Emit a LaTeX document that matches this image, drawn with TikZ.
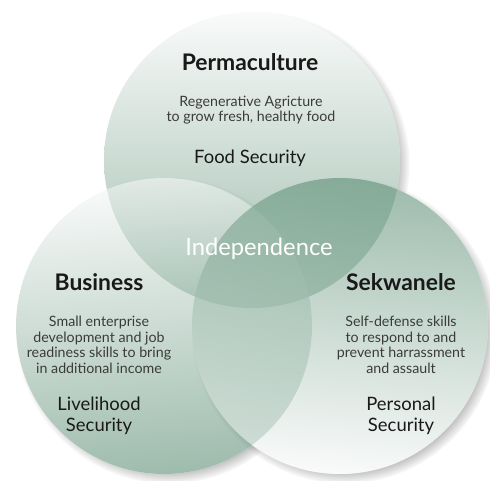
\documentclass[tikz,border=0pt]{standalone}
\usepackage{fontspec}
\setmainfont{Lato}
\usetikzlibrary{shadows}

\definecolor{venlight}{RGB}{246,248,247}
\definecolor{vengreen}{RGB}{88,140,114}
\definecolor{ventext}{RGB}{25,25,25}

\tikzset{
  ring/.style={circle, minimum size=5.92cm, inner sep=0pt, fill=white,
    circular drop shadow={shadow scale=1.035, shadow xshift=2.5pt, shadow yshift=-2.5pt, opacity=0.9}},
  ringshade/.style={fill opacity=0.58},
  heading/.style={font=\bfseries\fontsize{13}{15}\selectfont, text=ventext},
  blurb/.style={font=\fontsize{8.1}{8.8}\selectfont, align=center, text=ventext!85},
  goal/.style={font=\fontsize{10.5}{12}\selectfont, align=center, text=ventext},
}

\begin{document}
\begin{tikzpicture}[x=0.02cm, y=-0.02cm]
    \useasboundingbox (0,0) rectangle (490,480);

    % Circles
    \node[ring] at (252,160) (perma) {};
    \node[ring] at (164,326) (biz) {};
    \node[ring] at (340,326) (sekw) {};

    \shade[ringshade, top color=venlight, bottom color=vengreen]
        (perma.center) circle[radius=2.96cm];
    \shade[ringshade, left color=venlight, right color=vengreen, shading angle=5]
        (biz.center) circle[radius=2.96cm];
    \shade[ringshade, left color=vengreen, right color=venlight, shading angle=-5]
        (sekw.center) circle[radius=2.96cm];

    % Texts
    \node[heading] at (250,62) (permatitle) {Permaculture};
    \node[blurb] at (251,110) (permablurb) {Regenerative Agricture\\to grow fresh, healthy food};
    \node[goal] at (250,158) (permagoal) {Food Security};

    \node[font=\fontsize{13.5}{15}\selectfont, text=white] at (259,249) (indep) {Independence};

    \node[heading] at (99,282) (biztitle) {Business};
    \node[blurb] at (99,345) (bizblurb) {Small enterprise\\development and job\\readiness skills to bring\\in additional income};
    \node[goal] at (99,416) (bizgoal) {Livelihood\\Security};

    \node[heading] at (401,282) (sekwtitle) {Sekwanele};
    \node[blurb] at (401,345) (sekwblurb) {Self-defense skills\\to respond to and\\prevent harrassment\\and assault};
    \node[goal] at (401,416) (sekwgoal) {Personal\\Security};
\end{tikzpicture}
\end{document}
